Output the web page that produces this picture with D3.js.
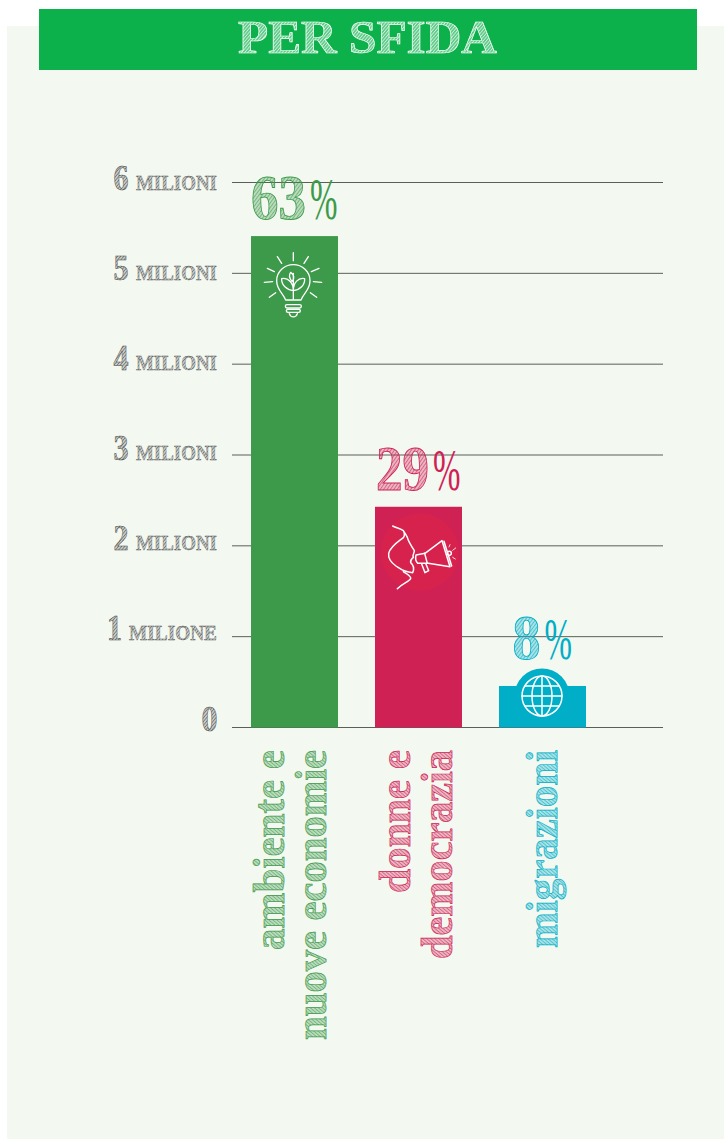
<!DOCTYPE html>
<html><head><meta charset="utf-8">
<style>html,body{margin:0;padding:0;background:#fff}svg{display:block}</style>
<script src="https://d3js.org/d3.v7.min.js"></script></head>
<body><svg id="c" width="724" height="1139"></svg>
<script>
const categories = ["ambiente e nuove economie","donne e democrazia","migrazioni"];
const labelLines = [["ambiente e","nuove economie"],["donne e","democrazia"],["migrazioni"]];
const values = [5.41,2.43,0.457];
const percents = [63,29,8];
const colors = ["#3d9a4a","#d02155","#00aec7"];
const tickValues = [0,1,2,3,4,5,6];
const tickUnits = ["","MILIONE","MILIONI","MILIONI","MILIONI","MILIONI","MILIONI"];
const title = "PER SFIDA";

const serif = "'Liberation Serif',serif";
const svg = d3.select("#c");
const defs = svg.append("defs");
function hatch(id,c,w,s,o){
  const p = defs.append("pattern").attr("id",id).attr("patternUnits","userSpaceOnUse")
    .attr("width",s).attr("height",s).attr("patternTransform","rotate(40)");
  p.append("rect").attr("width",s).attr("height",s).attr("fill",c).attr("opacity",o);
  p.append("line").attr("x1",0).attr("x2",0).attr("y1",0).attr("y2",s).attr("stroke",c).attr("stroke-width",w);
}
colors.forEach((c,i)=>hatch("h"+i,c,1,2.6,0.3));
hatch("hg","#444",1,2.4,0.25);
hatch("hw","#fff",1.1,2.4,0.35);

svg.append("rect").attr("x",7).attr("y",26).attr("width",717).attr("height",1113).attr("fill","#f3f8f1");
svg.append("rect").attr("x",39).attr("y",9).attr("width",658).attr("height",61).attr("fill","#0db14b");
svg.append("text").text(title).attr("x",238).attr("y",53).attr("font-family",serif).attr("font-weight",700)
  .attr("font-size",47).attr("textLength",259).attr("lengthAdjust","spacingAndGlyphs")
  .attr("fill","url(#hw)").attr("stroke","#fff").attr("stroke-width",0.7);

const y = d3.scaleLinear().domain([0,6]).range([727.5,182.5]);
const x = d3.scaleBand().domain(categories).range([232,605]).paddingInner(37/124).paddingOuter(19/124);
const labelY = d3.scaleLinear().domain([0,6]).range([730.5,189.5]);

const axis = d3.axisLeft(y).tickValues(tickValues).tickSize(-431).tickFormat("").offset(0);
const ax = svg.append("g").attr("transform","translate(232,0)").call(axis);
ax.select(".domain").remove();
ax.selectAll("line").attr("stroke","#5a5f5a").attr("stroke-width",1);

const tl = svg.append("g").selectAll("g").data(tickValues).join("g");
tl.each(function(v,i){
  const g = d3.select(this), u = tickUnits[i];
  const by = labelY(v);
  if(u){
    const wide = u==="MILIONE";
    g.append("text").text(u).attr("x",wide?129:136).attr("y",by)
      .attr("font-family",serif).attr("font-weight",700).attr("font-size",21)
      .attr("textLength",wide?88:81).attr("lengthAdjust","spacingAndGlyphs")
      .attr("fill","url(#hg)").attr("stroke","#555").attr("stroke-width",0.35);
  }
  g.append("text").text(v).attr("text-anchor","end").attr("x",u?(u==="MILIONE"?122:128.5):217.5).attr("y",by)
    .attr("font-family",serif).attr("font-weight",700).attr("font-size",35)
    .attr("textLength",u?15:16).attr("lengthAdjust","spacingAndGlyphs")
    .attr("fill","url(#hg)").attr("stroke","#444").attr("stroke-width",0.5);
});

svg.append("g").selectAll("rect").data(categories).join("rect")
  .attr("x",d=>x(d)).attr("width",x.bandwidth())
  .attr("y",(d,i)=>y(values[i])).attr("height",(d,i)=>y(0)-y(values[i]))
  .attr("fill",(d,i)=>colors[i]);

// percent labels: heavy digits, light percent sign, condensed by a vertical stretch
const pctGap = [17,17,27];
const digitW = [55,53,28];
percents.forEach((p,i)=>{
  const left = x(categories[i]) + x.bandwidth()/2 - (digitW[i]+32)/2;
  const by = y(values[i]) - pctGap[i];
  const fs = digitW[i]/(0.5*String(p).length);
  svg.append("text").text(p).attr("transform",`translate(${left},${by}) scale(1,${63/fs})`)
    .attr("font-family",serif).attr("font-weight",700).attr("font-size",fs)
    .attr("fill",`url(#h${i})`).attr("stroke",colors[i]).attr("stroke-width",0.8);
  svg.append("text").text("%").attr("transform",`translate(${left+digitW[i]+4},${by}) scale(1,${60/33})`)
    .attr("font-family",serif).attr("font-size",33).attr("fill",colors[i]);
});

const lineW = [[200,290],[143,209],[198]];
const baseX = [[284,326],[410,452],[557]];
categories.forEach((c,i)=>{
  labelLines[i].forEach((t,j)=>{
    svg.append("text").text(t).attr("transform",`translate(${baseX[i][j]},750) rotate(-90)`)
      .attr("text-anchor","end").attr("font-family",serif).attr("font-weight",700).attr("font-size",44)
      .attr("textLength",lineW[i][j]).attr("lengthAdjust","spacingAndGlyphs")
      .attr("fill",`url(#h${i})`).attr("stroke",colors[i]).attr("stroke-width",0.7);
  });
});

// icons
const ic = (tx,ty,k)=>svg.append("g").attr("transform",`translate(${tx},${ty}) scale(${k})`)
  .attr("fill","none").attr("stroke","#fff").attr("stroke-linecap","round").attr("stroke-linejoin","round");

// bulb
const b = ic(240,240,1/3).attr("stroke-width",4);
[[160,38,160,62],[112,50,125,70],[205,50,192,70],[82,85,103,95],[237,85,214,95],[73,127,98,125],[245,127,220,125],[88,172,107,158],[230,172,211,158]]
 .forEach(l=>b.append("line").attr("x1",l[0]).attr("y1",l[1]).attr("x2",l[2]).attr("y2",l[3]));
b.append("path").attr("d","M137,180 C130,160 110,150 110,122 C110,95 133,74 160,74 C187,74 210,95 210,122 C210,150 190,160 183,180 Z");
b.append("path").attr("d","M160,100 L160,178 M160,152 C140,150 124,135 125,116 C145,112 160,128 160,152 M160,152 C180,150 195,135 194,116 C175,112 160,128 160,152 M156,124 C146,112 146,105 152,97 C162,104 165,115 156,124");
b.append("rect").attr("x",136).attr("y",194).attr("width",48).attr("height",10).attr("rx",5);
b.append("rect").attr("x",139).attr("y",208).attr("width",42).attr("height",9).attr("rx",4.5);
b.append("path").attr("d","M148,221 C152,234 168,234 172,221");

// megaphone
svg.append("circle").attr("cx",420).attr("cy",552).attr("r",39).attr("fill","#d6224c");
const m = ic(370,500,1/3).attr("stroke-width",4.5);
m.append("path").attr("d","M68,78 C80,84 92,86 100,92 C104,100 104,108 100,113 C85,125 62,138 56,160 C54,175 64,188 78,198 C90,206 100,216 128,218 C134,205 130,195 122,188 C120,180 125,176 130,172 C126,165 134,158 133,152 C124,138 114,122 112,112 C108,104 104,98 100,92");
m.append("path").attr("d","M100,215 C110,222 124,228 122,236 C116,246 98,250 82,266");
m.append("path").attr("d","M138,165 L165,160 L216,122 L240,200 L175,190 L143,190 C136,182 136,172 138,165 Z M164,160 L172,190 M222,124 L245,198 M155,192 L165,218 L176,212 L167,190");
m.append("circle").attr("cx",238).attr("cy",160).attr("r",6);
m.append("path").attr("stroke-width",2.5).attr("d","M237,141 L240,134 M248,151 L257,144 M248,172 L256,177");

// globe
const gx=542, gy=696;
svg.append("path").attr("fill",colors[2])
  .attr("d",d3.arc()({innerRadius:0,outerRadius:27.5,startAngle:-Math.PI/2,endAngle:Math.PI/2}))
  .attr("transform",`translate(${gx},${gy})`);
const g = ic(gx,gy,1).attr("stroke-width",1.5);
g.append("circle").attr("r",20);
g.append("ellipse").attr("rx",10).attr("ry",20);
g.append("path").attr("d","M0,-20 L0,20 M-20,0 L20,0 M-17,-10 L17,-10 M-17,10 L17,10");
</script></body></html>
